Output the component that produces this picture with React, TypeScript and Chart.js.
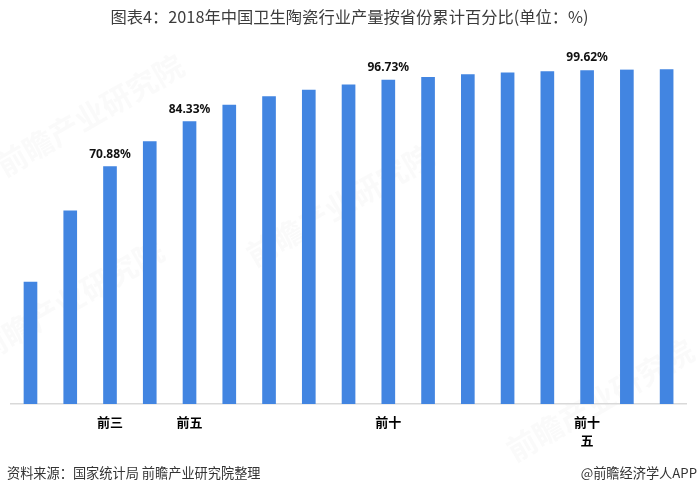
import React, { useEffect, useRef } from "react";
import { Chart, registerables } from "chart.js";

Chart.register(...registerables);

const W = 697;
const H = 494;

const titleText = "图表4：2018年中国卫生陶瓷行业产量按省份累计百分比(单位：%)";
const sourceText = "资料来源：国家统计局 前瞻产业研究院整理";
const brandText = "@前瞻经济学人APP";
const watermarkText = "前瞻产业研究院";

const categories: (string | string[])[] = [
  "", "", "前三", "", "前五", "", "", "", "", "前十",
  "", "", "", "", ["前十", "五"], "", "",
];

const values = [
  36.4, 57.7, 70.88, 78.35, 84.33, 89.3, 91.8, 93.8, 95.3, 96.73,
  97.6, 98.4, 98.9, 99.3, 99.62, 99.8, 99.95,
];

const labeledIndices = [2, 4, 9, 14];

const FONT = "'Noto Sans CJK SC', 'Noto Sans', sans-serif";

const textPlugin = {
  id: "texts",
  beforeDraw(chart: any) {
    const ctx = chart.ctx;
    ctx.save();
    ctx.fillStyle = "#ffffff";
    ctx.fillRect(0, 0, W, H);
    // faint watermarks
    ctx.fillStyle = "rgba(200,200,200,0.09)";
    ctx.font = `bold 30px ${FONT}`;
    ctx.textAlign = "center";
    ctx.textBaseline = "middle";
    const spots = [
      [90, 115],
      [340, 205],
      [70, 300],
      [600, 400],
    ];
    for (const [x, y] of spots) {
      ctx.save();
      ctx.translate(x, y);
      ctx.rotate(-Math.PI / 6);
      ctx.fillText(watermarkText, 0, 0);
      ctx.restore();
    }
    ctx.restore();
  },
  afterDraw(chart: any) {
    const ctx = chart.ctx;
    ctx.save();
    ctx.textBaseline = "middle";
    ctx.fillStyle = "#3c3c3c";
    ctx.font = `16.3px ${FONT}`;
    ctx.textAlign = "center";
    ctx.fillText(titleText, W / 2 + 1, 17);

    ctx.fillStyle = "#333333";
    ctx.font = `13.2px ${FONT}`;
    ctx.textAlign = "left";
    ctx.fillText(sourceText, 7, 473);
    ctx.textAlign = "right";
    ctx.fillText(brandText, 697, 473);
    ctx.restore();
  },
};

const valueLabelPlugin = {
  id: "valueLabels",
  afterDatasetsDraw(chart: any) {
    const ctx = chart.ctx;
    const meta = chart.getDatasetMeta(0);
    ctx.save();
    ctx.fillStyle = "#111111";
    ctx.font = `bold 12px 'Noto Sans', ${FONT}`;
    ctx.textAlign = "center";
    ctx.textBaseline = "middle";
    for (const i of labeledIndices) {
      const el = meta.data[i];
      ctx.fillText(values[i].toFixed(2) + "%", el.x, el.y - 12.5);
    }
    ctx.restore();
  },
};

export default function App() {
  const ref = useRef<HTMLCanvasElement | null>(null);

  useEffect(() => {
    if (!ref.current) return;
    const chart = new Chart(ref.current, {
      type: "bar",
      data: {
        labels: categories,
        datasets: [
          {
            data: values,
            backgroundColor: "#4285E1",
            barThickness: 13,
          },
        ],
      },
      options: {
        animation: false,
        responsive: false,
        devicePixelRatio: 1,
        layout: { padding: { top: 69.2, left: 10.6, right: 10.5, bottom: 0 } },
        plugins: {
          legend: { display: false },
          title: { display: false },
          tooltip: { enabled: false },
        },
        scales: {
          x: {
            grid: { display: false, drawTicks: false },
            border: { display: true, color: "#D9D9D9", width: 1.5 },
            ticks: {
              autoSkip: false,
              maxRotation: 0,
              minRotation: 0,
              padding: 9,
              color: "#000000",
              font: { family: FONT, size: 13, weight: "bold", lineHeight: 1.4 },
            },
            afterFit(scale: any) {
              scale.height = 90;
            },
          },
          y: {
            display: false,
            min: 0,
            max: 100,
          },
        },
      },
      plugins: [textPlugin, valueLabelPlugin],
    } as any);
    return () => chart.destroy();
  }, []);

  return (
    <div style={{ position: "fixed", left: 0, top: 0, width: W, height: H, background: "#fff" }}>
      <canvas ref={ref} width={W} height={H} style={{ display: "block", width: W, height: H }} />
    </div>
  );
}
